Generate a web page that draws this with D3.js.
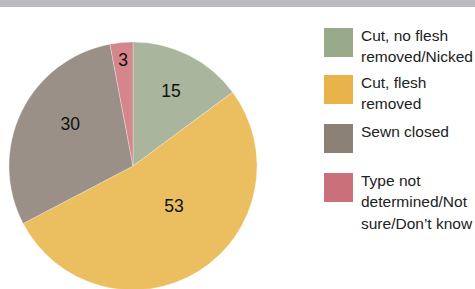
<!DOCTYPE html>
<html>
<head>
<meta charset="utf-8">
<script src="https://cdn.jsdelivr.net/npm/d3@7"></script>
<style>
  body { margin: 0; background: #fff; }
  svg { display: block; font-family: "Liberation Sans", Arial, sans-serif; }
</style>
</head>
<body>
<svg id="chart" width="475" height="289"></svg>
<script>
const categories = [
  ["Cut, no flesh", "removed/Nicked"],
  ["Cut, flesh", "removed"],
  ["Sewn closed"],
  ["Type not", "determined/Not", "sure/Don\u2019t know"]
];
const values = [15, 53, 30, 3];

const sliceColors = ["#a9b59c", "#ebbe5f", "#9b9087", "#d4868c"];
const swatchColors = ["#98aa8a", "#e8b34a", "#8b8174", "#c9707a"];
// label placement tweaks: [radius factor, angle shift in degrees]
const labelTweak = [[0.68, 0], [0.46, -14], [0.61, 8], [0.86, 0]];

const svg = d3.select("#chart");
const cx = 133, cy = 166, r = 124;

// header band (title text cropped off)
svg.append("rect").attr("x", 0).attr("y", 0).attr("width", 475).attr("height", 7).attr("fill", "#bbbbbf");

const pie = d3.pie().sort(null).value(d => d);
const arcs = pie(values);
const arc = d3.arc().innerRadius(0).outerRadius(r);

const g = svg.append("g").attr("transform", `translate(${cx},${cy})`);
g.selectAll("path")
  .data(arcs)
  .enter()
  .append("path")
  .attr("d", arc)
  .attr("fill", (d, i) => sliceColors[i])
  .attr("stroke", "#ffffff")
  .attr("stroke-opacity", 0.5)
  .attr("stroke-width", 0.6);

g.selectAll("text")
  .data(arcs)
  .enter()
  .append("text")
  .attr("transform", (d, i) => {
    const a = (d.startAngle + d.endAngle) / 2 + labelTweak[i][1] * Math.PI / 180;
    const rr = r * labelTweak[i][0];
    return `translate(${rr * Math.sin(a)},${-rr * Math.cos(a)})`;
  })
  .attr("text-anchor", "middle")
  .attr("dy", "0.36em")
  .attr("font-size", 17.5)
  .attr("fill", "#111")
  .text(d => d.data);

// legend
const legendTops = [28, 75, 124, 173];
const legend = svg.append("g");
categories.forEach((lines, i) => {
  const item = legend.append("g").attr("transform", `translate(324,${legendTops[i]})`);
  item.append("rect").attr("width", 29).attr("height", 29).attr("fill", swatchColors[i]);
  item.selectAll("text")
    .data(lines)
    .enter()
    .append("text")
    .attr("x", 37)
    .attr("y", (d, j) => 13 + j * 21.3)
    .attr("font-size", 15.5)
    .attr("fill", "#222")
    .text(d => d);
});
</script>
</body>
</html>
